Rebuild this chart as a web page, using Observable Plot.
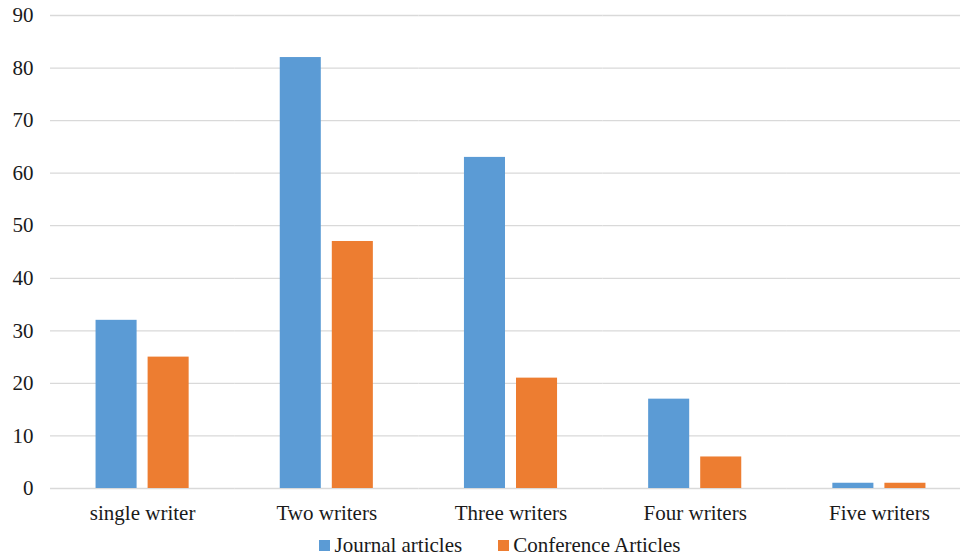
<!DOCTYPE html>
<html>
<head>
<meta charset="utf-8">
<script src="https://cdn.jsdelivr.net/npm/d3@7"></script>
<script src="https://cdn.jsdelivr.net/npm/@observablehq/plot@0.6"></script>
<style>
  html, body { margin: 0; padding: 0; background: #fff; }
  #chart { width: 960px; height: 557px; overflow: hidden; }
  #chart svg, #chart svg text, #chart div, #chart span {
    font-family: "Liberation Serif", "Times New Roman", serif !important;
  }
  div.lg-swatches-wrap .lg-swatch { margin-right: 0; }
  div.lg-swatches-wrap .lg-swatch + .lg-swatch { margin-left: 36px; }
  div.lg-swatches .lg-swatch > svg { margin-right: 4px; }
</style>
</head>
<body>
<div id="chart"></div>
<script>
// Number of authors per article, split by publication type
const categories = ["single writer", "Two writers", "Three writers", "Four writers", "Five writers"];
const series = ["Journal articles", "Conference Articles"];
const journal = [32, 82, 63, 17, 1];
const conference = [25, 47, 21, 6, 1];
const colors = ["#5B9BD5", "#ED7D31"];
const yTicks = [0, 10, 20, 30, 40, 50, 60, 70, 80, 90];

const data = categories.flatMap((category, i) => [
  {category, series: series[0], value: journal[i]},
  {category, series: series[1], value: conference[i]}
]);

const font = "Liberation Serif, Times New Roman, serif";
const ink = "#1a1a1a";

const chart = Plot.plot({
  width: 960,
  height: 530,
  marginTop: 15,
  marginBottom: 42,
  marginLeft: 50,
  marginRight: -11,
  style: {fontFamily: font, fontSize: "21px", color: ink, background: "#fff"},
  fx: {domain: categories, padding: 0, round: false, label: null, axis: null},
  x: {domain: series, paddingInner: 0.2115, paddingOuter: 0.875, round: false, axis: null},
  y: {domain: [0, 90], label: null, axis: null},
  color: {domain: series, range: colors},
  marks: [
    Plot.gridY(yTicks, {stroke: "#d9d9d9", strokeOpacity: 1, strokeWidth: 1.3}),
    Plot.barY(data, {fx: "category", x: "series", y: "value", fill: "series"}),
    Plot.axisY(yTicks, {tickSize: 0, tickPadding: 17, label: null, fill: ink}),
    Plot.axisFx({tickSize: 0, tickPadding: 17, label: null, fill: ink, anchor: "bottom"})
  ]
});

const legend = Plot.legend({
  color: {domain: series, range: colors},
  className: "lg",
  swatchSize: 11,
  style: {
    fontFamily: font,
    fontSize: "21px",
    color: ink,
    justifyContent: "center",
    marginBottom: "0",
    minHeight: "30px",
    paddingLeft: "40px"
  }
});

const root = document.getElementById("chart");
root.append(chart, legend);
</script>
</body>
</html>
